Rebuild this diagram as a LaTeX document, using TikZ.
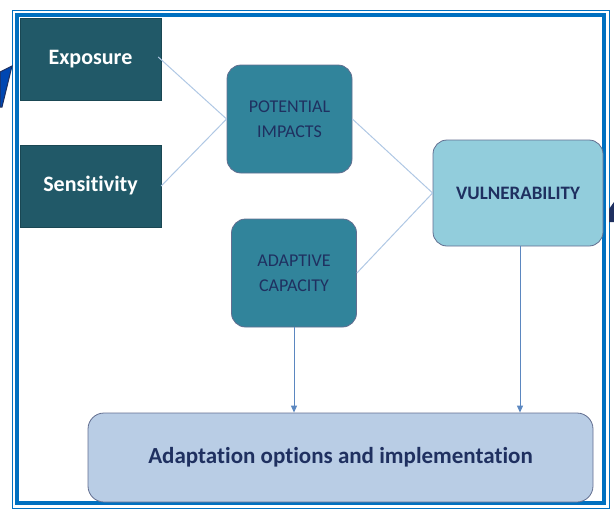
\documentclass[tikz,border=0pt]{standalone}
\usepackage{fontspec}
\setmainfont[Ligatures=NoCommon]{Carlito}
\usetikzlibrary{arrows.meta}
\definecolor{frameblue}{HTML}{0070C0}
\definecolor{darkteal}{HTML}{215968}
\definecolor{midteal}{HTML}{31849B}
\definecolor{lightteal}{HTML}{92CDDC}
\definecolor{paleblue}{HTML}{B9CDE5}
\definecolor{navy}{HTML}{1F3060}
\definecolor{linkblue}{HTML}{B0C8E4}
\definecolor{arrowblue}{HTML}{5B87C0}
\tikzset{
  factor/.style={draw=darkteal!80!black,fill=darkteal,text=white,font=\bfseries\fontsize{22}{24}\selectfont,minimum width=141pt,minimum height=82pt,inner sep=0pt},
  effect/.style={draw=navy!70,thick,fill=midteal,text=navy,rounded corners=14pt,align=center,font=\fontsize{18}{25}\selectfont,minimum width=125pt,minimum height=108pt,inner sep=0pt},
  link/.style={linkblue,line width=1pt},
  flow/.style={arrowblue,line width=1pt,-{Triangle[length=7pt,width=6pt]}}
}
\begin{document}
\begin{tikzpicture}[x=1pt,y=-1pt]
   \useasboundingbox (0,0) rectangle (614,512);
   % frame
   \draw[frameblue,line width=1pt] (12,10) rectangle (609,508);
   \draw[frameblue,line width=4pt] (17,15) rectangle (604,503);
   % cut-off pieces at the edges
   \filldraw[fill=blue!60!cyan!70!black,draw=navy,line width=1pt] (0,72) -- (12,66) -- (2,107) -- (0,107) -- cycle;
   \fill[navy] (609,209) -- (614,202) -- (614,222) -- (609,222) -- cycle;
   % nodes
   \node[factor] (exp) at (90.5,59) {Exposure};
   \node[factor] (sen) at (90.5,186) {Sensitivity};
   \node[effect] (pot) at (289.5,119) {POTENTIAL\\IMPACTS};
   \node[effect] (ada) at (294,273) {ADAPTIVE\\CAPACITY};
   \node[effect,fill=lightteal,font=\bfseries\fontsize{19}{22}\selectfont,minimum width=170pt,minimum height=106pt] (vul) at (518,193) {VULNERABILITY};
   \node[effect,fill=paleblue,rounded corners=16pt,font=\bfseries\fontsize{23}{26}\selectfont,minimum width=505pt,minimum height=89pt] (opt) at (340.5,457.5) {Adaptation options and implementation};
   % connectors
   \draw[link] (exp.east) ++(-3,-2) -- (pot.west);
   \draw[link] (sen.east) -- (pot.west);
   \draw[link] (pot.east) -- (vul.west);
   \draw[link] (ada.east) -- (vul.west);
   \draw[flow] (ada.south) -- (ada.south |- opt.north);
   \draw[flow] (vul.south) ++(2,0) coordinate (v) -- (v |- opt.north);
\end{tikzpicture}
\end{document}
